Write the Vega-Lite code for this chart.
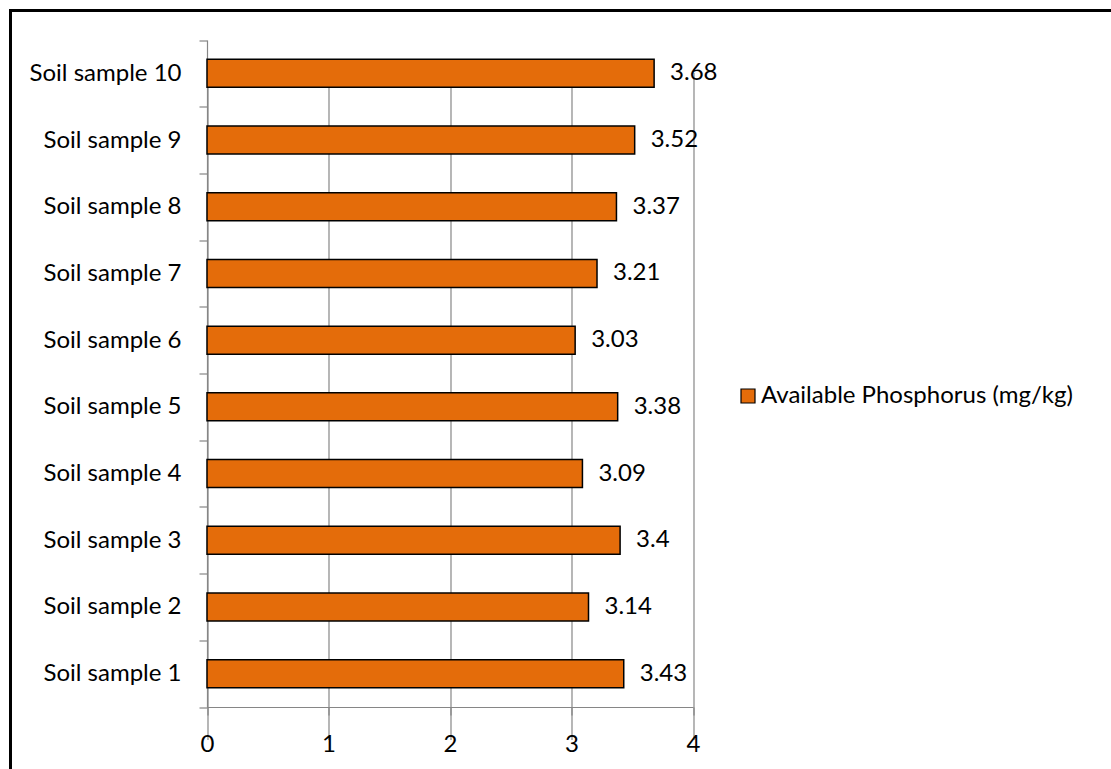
{
  "$schema": "https://vega.github.io/schema/vega-lite/v6.json",
  "autosize": "none",
  "width": 1100.5,
  "height": 758.5,
  "padding": {"left": 10.5, "top": 10.5, "right": 0, "bottom": 0},
  "background": "white",
  "config": {
    "font": "Lato",
    "view": {
      "fill": "white",
      "stroke": "black",
      "strokeWidth": 3,
      "strokeCap": "square",
      "strokeDash": [1100.5, 1859, 758.5]
    },
    "axis": {
      "domainColor": "#868686",
      "domainWidth": 1.2,
      "tickColor": "#868686",
      "tickWidth": 1.2,
      "tickSize": 8,
      "gridColor": "#868686",
      "gridWidth": 1.2,
      "labelColor": "black",
      "labelFont": "Lato",
      "labelFontSize": 24,
      "title": null
    }
  },
  "data": {
    "values": [
      {"sample": "Soil sample 1", "P": 3.43, "series": "Available Phosphorus (mg/kg)"},
      {"sample": "Soil sample 2", "P": 3.14, "series": "Available Phosphorus (mg/kg)"},
      {"sample": "Soil sample 3", "P": 3.4, "series": "Available Phosphorus (mg/kg)"},
      {"sample": "Soil sample 4", "P": 3.09, "series": "Available Phosphorus (mg/kg)"},
      {"sample": "Soil sample 5", "P": 3.38, "series": "Available Phosphorus (mg/kg)"},
      {"sample": "Soil sample 6", "P": 3.03, "series": "Available Phosphorus (mg/kg)"},
      {"sample": "Soil sample 7", "P": 3.21, "series": "Available Phosphorus (mg/kg)"},
      {"sample": "Soil sample 8", "P": 3.37, "series": "Available Phosphorus (mg/kg)"},
      {"sample": "Soil sample 9", "P": 3.52, "series": "Available Phosphorus (mg/kg)"},
      {"sample": "Soil sample 10", "P": 3.68, "series": "Available Phosphorus (mg/kg)"}
    ]
  },
  "encoding": {
    "y": {
      "field": "sample",
      "type": "nominal",
      "sort": ["Soil sample 10", "Soil sample 9", "Soil sample 8", "Soil sample 7", "Soil sample 6", "Soil sample 5", "Soil sample 4", "Soil sample 3", "Soil sample 2", "Soil sample 1"],
      "scale": {"range": [29.5, 696.5], "paddingInner": 0, "paddingOuter": 0},
      "axis": {
        "offset": -196.5,
        "tickBand": "extent",
        "grid": false,
        "labelPadding": 18
      }
    },
    "x": {
      "field": "P",
      "type": "quantitative",
      "scale": {"domain": [0, 4], "range": [196.5, 682.5], "nice": false},
      "axis": {
        "offset": -62,
        "values": [0, 1, 2, 3, 4],
        "grid": true,
        "labelPadding": 17,
        "labelFlush": false
      }
    }
  },
  "layer": [
    {
      "mark": {"type": "bar", "stroke": "black", "strokeWidth": 1.5, "height": {"band": 0.42}},
      "encoding": {
        "color": {
          "field": "series",
          "type": "nominal",
          "scale": {"range": ["#E46C0A"]},
          "legend": {
            "title": null,
            "orient": "none",
            "legendX": 725.5,
            "legendY": 373.5,
            "symbolType": "square",
            "symbolSize": 196,
            "symbolStrokeColor": "black",
            "symbolStrokeWidth": 1.2,
            "symbolOpacity": 1,
            "labelFont": "Lato",
            "labelFontSize": 24,
            "labelColor": "black",
            "labelOffset": 1,
            "labelLimit": 400
          }
        }
      }
    },
    {
      "mark": {"type": "text", "align": "left", "baseline": "middle", "dx": 16, "fontSize": 24, "font": "Lato", "color": "black"},
      "encoding": {
        "text": {"field": "P", "type": "nominal"}
      }
    }
  ]
}
